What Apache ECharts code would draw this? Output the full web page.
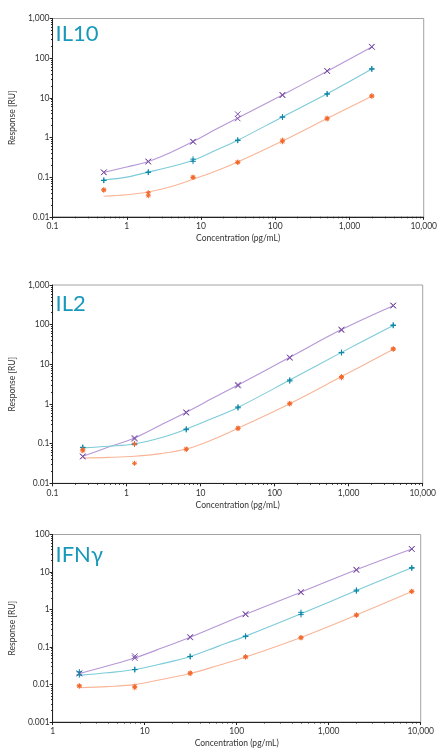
<!DOCTYPE html>
<html>
<head>
<meta charset="utf-8">
<script src="https://cdn.jsdelivr.net/npm/echarts@6/dist/echarts.min.js"></script>
<style>
html,body{margin:0;padding:0;background:#fff;}
#chart{width:440px;height:749px;}
</style>
</head>
<body>
<div id="chart"></div>
<script>
// ---------- IL10 ----------
const il10Conc = [0.49, 1.95, 7.81, 31.25, 125, 500, 2000];
const il10PurpleRep1 = [0.132, 0.25, 0.79, 3.87, 11.9, 48, 195];
const il10PurpleRep2 = [0.132, 0.245, 0.78, 3.0, 11.6, 47, 192];
const il10TealRep1 = [0.083, 0.134, 0.285, 0.86, 3.3, 12.6, 54];
const il10TealRep2 = [0.083, 0.132, 0.25, 0.84, 3.25, 12.4, 53];
const il10OrangeRep1 = [0.048, 0.0405, 0.10, 0.239, 0.857, 3.07, 11.2];
const il10OrangeRep2 = [0.047, 0.034, 0.098, 0.235, 0.78, 2.95, 11.0];
const il10CurveX = [0.49, 1, 1.95, 3.9, 7.81, 15.6, 31.25, 125, 500, 2000];
const il10PurpleCurve = [0.132, 0.18, 0.249, 0.42, 0.79, 1.58, 3.1, 11.8, 47, 190];
const il10TealCurve = [0.085, 0.10, 0.134, 0.182, 0.265, 0.47, 0.85, 3.3, 12.6, 53];
const il10OrangeCurve = [0.033, 0.036, 0.042, 0.057, 0.088, 0.14, 0.24, 0.81, 3.0, 11];

// ---------- IL2 ----------
const il2Conc = [0.256, 1.28, 6.4, 32, 160, 800, 4000];
const il2PurpleRep1 = [0.048, 0.139, 0.62, 3.07, 15, 76, 307];
const il2PurpleRep2 = [0.047, 0.132, 0.60, 2.9, 14.5, 73, 300];
const il2TealRep1 = [0.081, 0.098, 0.234, 0.84, 4.03, 20, 98];
const il2TealRep2 = [0.079, 0.097, 0.225, 0.80, 3.8, 19.5, 95];
const il2OrangeRep1 = [0.0706, 0.098, 0.073, 0.248, 1.04, 4.9, 24.8];
const il2OrangeRep2 = [0.066, 0.032, 0.072, 0.24, 1.0, 4.6, 24];
const il2CurveX = [0.256, 0.57, 1.28, 2.9, 6.4, 14.3, 32, 160, 800, 4000];
const il2PurpleCurve = [0.048, 0.082, 0.139, 0.295, 0.62, 1.37, 3.0, 15, 75, 300];
const il2TealCurve = [0.078, 0.086, 0.098, 0.14, 0.232, 0.43, 0.82, 4.0, 20, 95];
const il2OrangeCurve = [0.0436, 0.045, 0.048, 0.056, 0.073, 0.125, 0.245, 1.02, 4.9, 24];

// ---------- IFN ----------
const ifnConc = [1.95, 7.81, 31.25, 125, 500, 2000, 8000];
const ifnPurpleRep1 = [0.02, 0.057, 0.185, 0.76, 2.94, 11.6, 41.5];
const ifnPurpleRep2 = [0.0195, 0.0507, 0.18, 0.74, 2.85, 11.3, 41];
const ifnTealRep1 = [0.0218, 0.025, 0.056, 0.196, 0.84, 3.3, 13.1];
const ifnTealRep2 = [0.018, 0.025, 0.0555, 0.19, 0.73, 3.1, 12.6];
const ifnOrangeRep1 = [0.0092, 0.009, 0.0205, 0.055, 0.18, 0.72, 3.06];
const ifnOrangeRep2 = [0.0091, 0.0082, 0.0195, 0.054, 0.175, 0.70, 3.0];
const ifnCurveX = [1.95, 3.9, 7.81, 15.6, 31.25, 62.5, 125, 500, 2000, 8000];
const ifnPurpleCurve = [0.0195, 0.031, 0.051, 0.095, 0.183, 0.37, 0.75, 2.9, 11.5, 41];
const ifnTealCurve = [0.0175, 0.0205, 0.025, 0.036, 0.056, 0.104, 0.195, 0.77, 3.2, 13];
const ifnOrangeCurve = [0.0082, 0.0088, 0.0099, 0.0138, 0.0197, 0.032, 0.054, 0.18, 0.71, 3.0];

const titles = ['IL10', 'IL2', 'IFNγ'];
const xName = 'Concentration (pg/mL)';
const yName = 'Response [RU]';

const charts = [
  {title: titles[0], conc: il10Conc, curveX: il10CurveX, xMin: 0.1, xMax: 10000, yMin: 0.01, yMax: 1000,
   reps: [[il10PurpleRep1, il10PurpleRep2], [il10TealRep1, il10TealRep2], [il10OrangeRep1, il10OrangeRep2]],
   curves: [il10PurpleCurve, il10TealCurve, il10OrangeCurve]},
  {title: titles[1], conc: il2Conc, curveX: il2CurveX, xMin: 0.1, xMax: 10000, yMin: 0.01, yMax: 1000,
   reps: [[il2PurpleRep1, il2PurpleRep2], [il2TealRep1, il2TealRep2], [il2OrangeRep1, il2OrangeRep2]],
   curves: [il2PurpleCurve, il2TealCurve, il2OrangeCurve]},
  {title: titles[2], conc: ifnConc, curveX: ifnCurveX, xMin: 1, xMax: 10000, yMin: 0.001, yMax: 100,
   reps: [[ifnPurpleRep1, ifnPurpleRep2], [ifnTealRep1, ifnTealRep2], [ifnOrangeRep1, ifnOrangeRep2]],
   curves: [ifnPurpleCurve, ifnTealCurve, ifnOrangeCurve]}
];

const layout = [
  {left: 39.5, top: 18.5, width: 384.5, height: 198.3, titleX: 55.5, titleY: 23},
  {left: 39.5, top: 285, width: 383.2, height: 198.3, titleX: 55.5, titleY: 293},
  {left: 39.5, top: 534.5, width: 381.2, height: 195.5, titleX: 55.5, titleY: 543.5}
];

const lineColors = ['#b697d6', '#7ccbd8', '#f9b597'];
const markColors = ['#7d52aa', '#0b87a6', '#f2682b'];
const symbols = [
  'path://M0,0L10,10M0,10L10,0',
  'path://M5,0L5,10M0,5L10,5',
  'path://M5,0L5,10M0,5L10,5M1.6,1.6L8.4,8.4M1.6,8.4L8.4,1.6'
];

function fmt(v) {
  const n = parseFloat(Number(v).toPrecision(4));
  return n >= 1000 ? n.toLocaleString('en-US') : String(n);
}

const grid = [], xAxis = [], yAxis = [], series = [], graphic = [];
const labelStyle = {color: '#333', fontSize: 8.5, fontFamily: 'Lato, sans-serif'};

charts.forEach((c, i) => {
  const L = layout[i];
  grid.push({left: L.left, top: L.top, width: L.width, height: L.height,
    show: true, borderColor: '#a3a3a3', borderWidth: 1, backgroundColor: 'transparent'});
  xAxis.push({type: 'log', logBase: 10, gridIndex: i, min: c.xMin, max: c.xMax,
    name: xName, nameLocation: 'middle', nameGap: 17, nameTextStyle: labelStyle,
    axisLine: {show: true, lineStyle: {color: '#222', width: 1}},
    axisTick: {show: true, length: 3, inside: false, lineStyle: {color: '#222'}},
    minorTick: {show: true, splitNumber: 9, length: 1.5, lineStyle: {color: '#222'}},
    splitLine: {show: false}, minorSplitLine: {show: false},
    axisLabel: Object.assign({margin: 5, formatter: fmt}, labelStyle)});
  yAxis.push({type: 'log', logBase: 10, gridIndex: i, min: c.yMin, max: c.yMax,
    name: yName, nameLocation: 'middle', nameGap: 24, nameRotate: 90, nameTextStyle: labelStyle,
    axisLine: {show: true, lineStyle: {color: '#222', width: 1}},
    axisTick: {show: true, length: 3, lineStyle: {color: '#222'}},
    minorTick: {show: true, splitNumber: 9, length: 1.5, lineStyle: {color: '#222'}},
    splitLine: {show: false}, minorSplitLine: {show: false},
    axisLabel: Object.assign({margin: 3, formatter: fmt}, labelStyle)});
  c.curves.forEach((cv, k) => {
    series.push({type: 'line', xAxisIndex: i, yAxisIndex: i, smooth: 0.35, showSymbol: false,
      symbol: 'none', silent: true, z: 2,
      lineStyle: {color: lineColors[k], width: 1.1},
      data: c.curveX.map((x, j) => [x, cv[j]])});
  });
  c.reps.forEach((pair, k) => {
    const data = [];
    pair.forEach(rep => rep.forEach((y, j) => data.push([c.conc[j], y])));
    series.push({type: 'scatter', xAxisIndex: i, yAxisIndex: i, z: 3,
      symbol: symbols[k], symbolSize: k === 2 ? 5 : 5.5,
      itemStyle: {color: 'rgba(0,0,0,0)', borderColor: markColors[k], borderWidth: 1, opacity: 1},
      data});
  });
  graphic.push({type: 'text', left: L.titleX, top: L.titleY,
    style: {text: c.title, fill: '#1799bb', fontSize: 22, fontFamily: 'Lato, sans-serif', fontWeight: 'normal'}});
});

const chart = echarts.init(document.getElementById('chart'), null, {renderer: 'canvas'});
chart.setOption({animation: false, backgroundColor: '#fff', grid, xAxis, yAxis, series, graphic});
</script>
</body>
</html>
